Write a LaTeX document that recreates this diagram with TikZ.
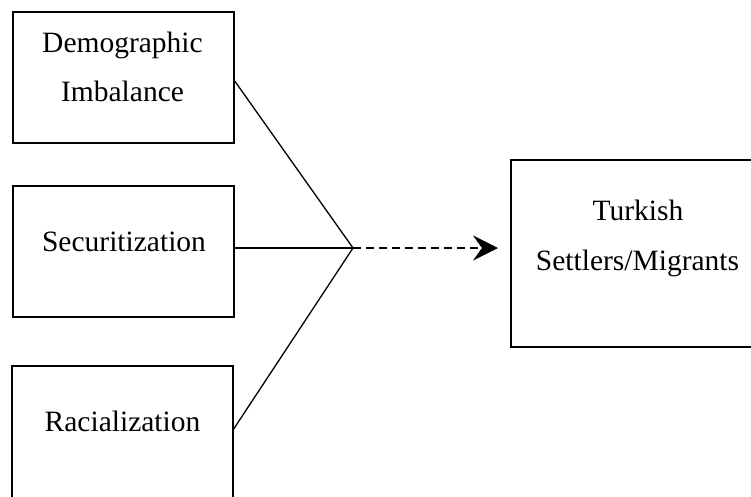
\documentclass[tikz,border=0pt]{standalone}
\usepackage{fontspec}
\setmainfont{Liberation Serif}
\usetikzlibrary{arrows.meta,calc}
\begin{document}
\begin{tikzpicture}[x=1pt,y=-1pt,
  box/.style={draw=black, line width=2.2pt, rectangle, inner sep=0pt, outer sep=0pt},
  lbl/.style={anchor=base, inner sep=0pt, font=\fontsize{29.5}{34}\selectfont},
  conn/.style={draw=black, line width=1.3pt},
  darrow/.style={draw=black, line width=1.3pt, dash pattern=on 8pt off 5pt,
    -{Stealth[length=25pt,width=25pt,inset=9pt]}}]
\useasboundingbox (0,0) rectangle (751,496);
\clip (0,0) rectangle (751,496);
% boxes
\node[box, minimum width=221pt, minimum height=131pt] (dem) at (123.5,77.5) {};
\node[box, minimum width=221pt, minimum height=131pt] (sec) at (123.5,251.5) {};
\node[box, minimum width=221pt, minimum height=136pt] (rac) at (122.5,434) {};
\node[box, minimum width=320pt, minimum height=187pt] (tur) at (671,253.5) {};
% labels
\node[lbl] (demA) at (122.5,52) {Demographic};
\node[lbl] (demB) at (122.5,101) {Imbalance};
\node[lbl] (secA) at (124,251) {Securitization};
\node[lbl] (racA) at (122.5,431) {Racialization};
\node[lbl] (turA) at (638,220) {Turkish};
\node[lbl] (turB) at (637.5,270) {Settlers/Migrants};
% junction
\coordinate (J) at (353,248);
\draw[conn] ([yshift=-2.5pt]dem.east) -- (J);
\draw[conn] (J -| sec.east) -- (J);
\draw[conn] ([yshift=4pt]rac.east) -- (J);
\draw[darrow, shorten >=13pt] (J) -- (J -| tur.west);
\end{tikzpicture}
\end{document}
